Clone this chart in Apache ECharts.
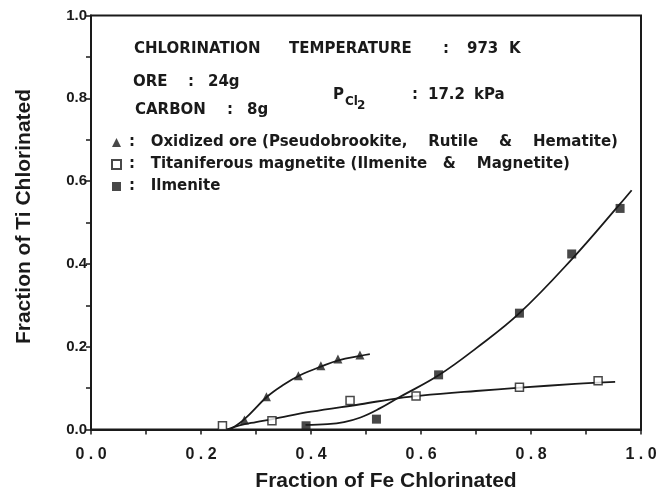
<!DOCTYPE html>
<html lang="en">
<head>
    <meta charset="UTF-8">
    <title>Fraction of Ti vs Fe Chlorinated</title>
    <script src="https://cdn.jsdelivr.net/npm/echarts/dist/echarts.min.js"></script>
    <style>
        body { margin: 0; padding: 0; background: #fff; }
        #chart { width: 661px; height: 490px; }
    </style>
</head>
<body>
<div id="chart"></div>
<script>
    // measured points
    const oxidizedX = [0.279, 0.319, 0.377, 0.418, 0.449, 0.489];
    const oxidizedY = [0.023, 0.079, 0.130, 0.154, 0.170, 0.180];
    const magnetiteX = [0.239, 0.329, 0.471, 0.591, 0.779, 0.922];
    const magnetiteY = [0.009, 0.021, 0.070, 0.081, 0.102, 0.118];
    const ilmeniteX = [0.391, 0.519, 0.632, 0.779, 0.874, 0.962];
    const ilmeniteY = [0.009, 0.025, 0.132, 0.281, 0.424, 0.534];

    // hand drawn fit curves
    const oxidizedCurveX = [0.253, 0.279, 0.32, 0.35, 0.38, 0.42, 0.45, 0.49, 0.507];
    const oxidizedCurveY = [0.0, 0.025, 0.079, 0.108, 0.131, 0.153, 0.167, 0.178, 0.182];
    const magnetiteCurveX = [0.247, 0.27, 0.30, 0.33, 0.40, 0.49, 0.56, 0.60, 0.70, 0.78, 0.88, 0.953];
    const magnetiteCurveY = [0.0, 0.01, 0.018, 0.025, 0.043, 0.061, 0.076, 0.082, 0.093, 0.101, 0.110, 0.115];
    const ilmeniteCurveX = [0.39, 0.43, 0.46, 0.49, 0.525, 0.562, 0.632, 0.70, 0.779, 0.874, 0.962, 0.983];
    const ilmeniteCurveY = [0.011, 0.013, 0.018, 0.029, 0.051, 0.079, 0.131, 0.196, 0.281, 0.411, 0.545, 0.578];

    const seriesNames = [
        'Oxidized ore (Pseudobrookite,    Rutile    &    Hematite)',
        'Titaniferous magnetite (Ilmenite   &    Magnetite)',
        'Ilmenite'
    ];

    const ink = '#1a1a1a';
    const font = "'Liberation Sans', Arial, sans-serif";
    const noteFont = "'DejaVu Sans', sans-serif";
    const zip = (xs, ys) => xs.map((x, i) => [x, ys[i]]);

    const chart = echarts.init(document.getElementById('chart'));

    const txt = (x, y, text, size) => ({
        type: 'text', x: x, y: y,
        style: {
            text: text, fill: ink, verticalAlign: 'middle',
            font: 'bold ' + size + 'px ' + noteFont
        }
    });

    const curve = (xs, ys) => ({
        type: 'line', data: zip(xs, ys), smooth: 0.4, showSymbol: false,
        silent: true, lineStyle: { color: ink, width: 1.8 }, z: 2
    });

    chart.setOption({
        animation: false,
        grid: {
            left: 91, right: 20, top: 15.5, bottom: 60.5,
            outerBoundsMode: 'none', containLabel: false,
            show: true, borderColor: ink, borderWidth: 2
        },
        xAxis: {
            type: 'value', min: 0, max: 1, interval: 0.1,
            name: 'Fraction of Fe Chlorinated',
            nameLocation: 'middle', nameGap: 41,
            nameTextStyle: { fontFamily: font, fontWeight: 'bold', fontSize: 21, color: ink, padding: [0, 0, 0, 40] },
            axisLine: { lineStyle: { color: ink, width: 2 } },
            axisTick: { length: 5, lineStyle: { color: ink, width: 1.5 } },
            axisLabel: {
                margin: 17, color: ink, fontFamily: font, fontWeight: 'bold', fontSize: 16,
                formatter: v => Math.round(v * 10) % 2 === 0 ? v.toFixed(1).split('').join(' ') : ''
            },
            splitLine: { show: false }
        },
        yAxis: {
            type: 'value', min: 0, max: 1, interval: 0.1,
            name: 'Fraction of Ti Chlorinated',
            nameLocation: 'middle', nameGap: 56,
            nameTextStyle: { fontFamily: font, fontWeight: 'bold', fontSize: 21, color: ink, padding: [0, 0, 0, 12] },
            axisLine: { lineStyle: { color: ink, width: 2 } },
            axisTick: { length: 5, lineStyle: { color: ink, width: 1.5 } },
            axisLabel: {
                margin: 4, color: ink, fontFamily: font, fontWeight: 'bold', fontSize: 15,
                formatter: v => Math.round(v * 10) % 2 === 0 ? v.toFixed(1) : ''
            },
            splitLine: { show: false }
        },
        legend: {
            orient: 'vertical', left: 106, top: 130, itemGap: 7,
            itemWidth: 9, itemHeight: 9,
            data: [
                { name: seriesNames[0], icon: 'triangle' },
                { name: seriesNames[1], icon: 'rect' },
                { name: seriesNames[2], icon: 'rect' }
            ],
            formatter: name => ':   ' + name,
            textStyle: { color: ink, fontFamily: noteFont, fontWeight: 'bold', fontSize: 15, padding: [0, 0, 0, 3] }
        },
        graphic: [
            txt(134, 49, 'CHLORINATION', 15),
            txt(289, 49, 'TEMPERATURE', 15),
            txt(443, 49, ':', 15),
            txt(467, 49, '973', 15),
            txt(509, 49, 'K', 15),
            txt(133, 82, 'ORE', 15),
            txt(188, 82, ':', 15),
            txt(208, 82, '24g', 15),
            txt(135, 110, 'CARBON', 15),
            txt(227, 110, ':', 15),
            txt(247, 110, '8g', 15),
            txt(333, 95, 'P', 15),
            txt(345, 102, 'Cl', 12),
            txt(357, 106, '2', 12),
            txt(412, 95, ':', 15),
            txt(428, 95, '17.2', 15),
            txt(474, 95, 'kPa', 15)
        ],
        series: [
            curve(oxidizedCurveX, oxidizedCurveY),
            curve(magnetiteCurveX, magnetiteCurveY),
            curve(ilmeniteCurveX, ilmeniteCurveY),
            {
                name: seriesNames[0], type: 'scatter', data: zip(oxidizedX, oxidizedY),
                symbol: 'triangle', symbolSize: 9, itemStyle: { color: ink }, z: 3
            },
            {
                name: seriesNames[1], type: 'scatter', data: zip(magnetiteX, magnetiteY),
                symbol: 'rect', symbolSize: 8,
                itemStyle: { color: '#fff', borderColor: ink, borderWidth: 1.5 }, z: 3
            },
            {
                name: seriesNames[2], type: 'scatter', data: zip(ilmeniteX, ilmeniteY),
                symbol: 'rect', symbolSize: 9, itemStyle: { color: ink }, z: 3
            }
        ]
    });
</script>
</body>
</html>
